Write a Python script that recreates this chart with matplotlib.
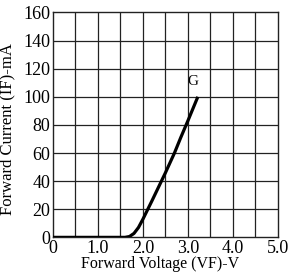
import numpy as np
import matplotlib.pyplot as plt

# forward voltage (V) vs forward current (mA)
vf = [0.0, 1.6, 1.7, 1.8, 1.9, 2.0, 2.2, 2.35, 2.5, 2.7, 2.84, 3.0, 3.22]
i_f = [0.0, 0.0, 0.6, 2.8, 7.0, 13.0, 26.0, 36.0, 46.0, 60.0, 71.0, 83.0, 100.0]
xticks = [0, 1, 2, 3, 4, 5]
xtick_labels = ["0", "1.0", "2.0", "3.0", "4.0", "5.0"]
yticks = [0, 20, 40, 60, 80, 100, 120, 140, 160]

plt.rcParams['font.family'] = ['Liberation Serif', 'DejaVu Serif']

fig = plt.figure(figsize=(2.88, 2.76), dpi=100)
ax = fig.add_axes([0.184, 0.140, 0.781, 0.815])

# grid every 0.5 V and 20 mA
for x in np.arange(0.5, 5.0, 0.5):
    ax.axvline(x, color="#222222", lw=0.9, zorder=1)
for y in yticks[1:-1]:
    ax.axhline(y, color="#222222", lw=0.9, zorder=1)

ax.plot(vf, i_f, color="black", lw=2.3, solid_capstyle="butt", zorder=3)
ax.text(3.12, 106, "G", fontsize=11, ha="center", va="bottom")

ax.set_xlim(0, 5)
ax.set_ylim(0, 160)
ax.set_xticks(xticks)
ax.set_xticklabels(xtick_labels)
ax.set_yticks(yticks)
ax.tick_params(length=0, labelsize=13, pad=2)
for s in ax.spines.values():
    s.set_linewidth(1.0)
    s.set_color("#222222")

ax.set_xlabel("Forward Voltage (VF)-V", fontsize=11.5)
ax.set_ylabel("Forward Current (IF)-mA", fontsize=12)
ax.xaxis.set_label_coords(0.475, -0.085)
ax.yaxis.set_label_coords(-0.165, 0.48)

fig.savefig("out.png", dpi=100)
